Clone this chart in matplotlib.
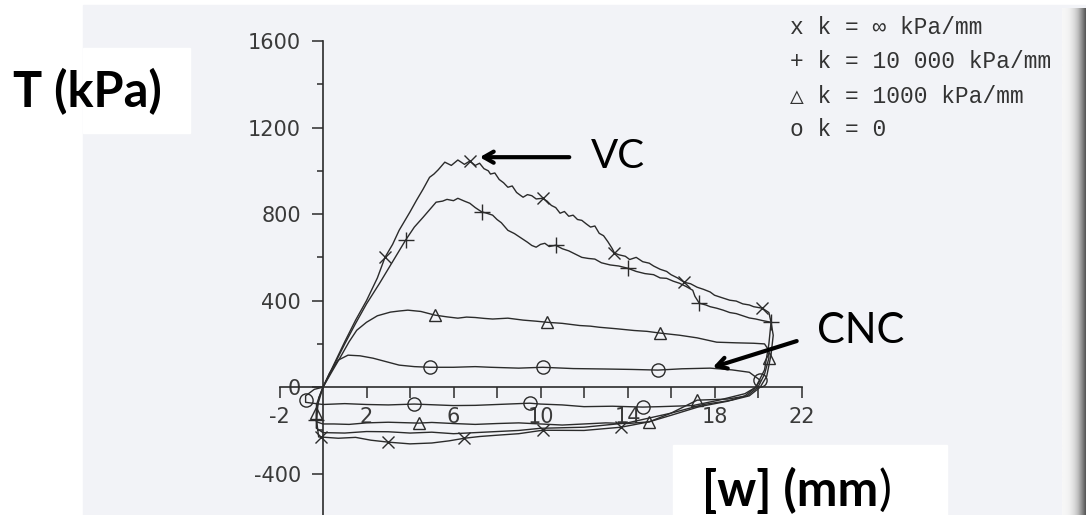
import numpy as np
import matplotlib.pyplot as plt
from matplotlib.patches import Rectangle

plt.rcParams['axes.unicode_minus'] = False

# k = inf  (x markers)
x_inf = [0, 0.5, 1.0, 1.5, 2.0, 2.5, 2.85, 3.2, 3.5, 4.0, 4.3, 4.6, 4.9, 5.1, 5.3, 5.6, 5.9, 6.2, 6.5, 6.75,
         7.0, 7.2, 7.4, 7.6, 7.7, 7.9, 8.1, 8.3, 8.5, 8.7, 8.9, 9.1, 9.2, 9.4, 9.6, 9.8, 10.1, 10.3,
         10.5, 10.7, 10.9, 11.1, 11.3, 11.5, 11.7, 11.9, 12.1, 12.3, 12.5, 12.7, 12.9, 13.1, 13.3,
         13.4, 13.6, 13.9, 14.1, 14.4, 14.7, 15.0, 15.2, 15.5, 15.8, 16.0, 16.3, 16.6, 16.9, 17.2,
         17.5, 17.8, 18.0, 18.3, 18.7, 19.0, 19.3, 19.6, 19.8, 20.2, 20.5, 20.6,
         20.5, 20.3, 19.9, 19.4, 18.6, 17.3, 16.0, 15.0, 13.7, 12.0, 10.1, 9.0, 8.0, 7.2, 6.5, 5.8,
         5.0, 4.0, 3.0, 2.2, 1.5, 0.7, 0.0, -0.2, -0.3, -0.2, 0]
y_inf = [0, 105, 210, 310, 400, 505, 600, 660, 725, 810, 864, 915, 970, 985, 1005, 1040, 1025, 1050, 1030, 1045,
         1025, 1035, 1010, 1000, 985, 990, 960, 945, 924, 930, 900, 885, 878, 890, 885, 870, 873, 860,
         840, 830, 804, 812, 790, 795, 775, 771, 755, 740, 745, 711, 700, 672, 640,
         620, 612, 605, 590, 600, 580, 573, 560, 545, 535, 520, 505, 485, 478, 462,
         452, 440, 425, 415, 402, 398, 385, 380, 372, 365, 345, 300,
         200, 80, 0, -40, -65, -90, -130, -160, -185, -200, -199, -215, -222, -228, -236, -248,
         -258, -262, -254, -245, -232, -236, -231, -230, -150, -50, 0]
mx_inf = [2.85, 6.75, 10.1, 13.4, 16.6, 20.2, 13.7, 10.1, 6.5, 3.0, -0.1]
my_inf = [600, 1045, 873, 620, 485, 365, -185, -199, -236, -254, -231]

# k = 10 000 kPa/mm  (+ markers)
x_10k = [0, 0.5, 1.0, 1.5, 2.0, 2.6, 3.2, 3.8, 4.2, 4.6, 5.2, 5.5, 5.7, 6.0, 6.2, 6.5, 6.75,
         7.0, 7.3, 7.5, 7.8, 8.0, 8.2, 8.5, 8.8, 9.1, 9.4, 9.6, 9.8, 10.0, 10.2, 10.4, 10.7, 11.0,
         11.3, 11.6, 11.9, 12.2, 12.5, 12.8, 13.2, 13.6, 14.0, 14.4, 14.8, 15.2, 15.5, 15.8, 16.1,
         16.4, 16.7, 17.0, 17.1, 17.3, 17.6, 17.8, 18.1, 18.4, 18.7, 19.0, 19.3, 19.6, 19.9, 20.2,
         20.6, 20.7, 20.6, 20.4, 20.1, 19.6, 18.8, 17.5, 16.0, 14.0, 12.0, 10.0, 9.0,
         8.0, 7.0, 6.0, 5.0, 4.0, 3.0, 2.0, 1.0, 0.0, -0.3, -0.3, 0]
y_10k = [0, 100, 200, 295, 385, 480, 580, 680, 740, 785, 855, 860, 868, 862, 873, 860, 850,
         830, 810, 805, 795, 775, 760, 725, 710, 690, 670, 655, 647, 660, 665, 650, 656, 640,
         630, 615, 600, 595, 592, 575, 565, 560, 550, 535, 525, 520, 505, 503, 490,
         480, 465, 448, 420, 388, 380, 372, 365, 356, 345, 340, 330, 320, 315, 308,
         300, 240, 150, 50, 0, -40, -60, -80, -120, -165, -185, -190, -200,
         -205, -210, -215, -208, -212, -206, -205, -212, -210, -190, -100, 0]
mx_10k = [3.8, 7.3, 10.7, 14.0, 17.3, 20.6, -0.3]
my_10k = [680, 810, 656, 550, 388, 300, -150]

# k = 1000 kPa/mm  (triangles)
x_1k = [0, 0.4, 0.8, 1.2, 1.55, 2.0, 2.5, 3.1, 3.5, 3.9, 4.5, 5.15, 5.7, 6.2, 6.6, 7.0, 7.4, 7.8,
        8.5, 9.2, 9.8, 10.3, 11.0, 11.8, 12.3, 12.7, 13.5, 14.3, 14.9, 15.5, 16.4, 17.2, 18.1,
        19.0, 19.8, 20.3, 20.5, 20.5, 20.3, 20.0, 19.5, 18.6, 17.2, 16.0, 15.0, 14.0, 13.0, 12.0,
        11.0, 10.0, 9.0, 8.0, 7.0, 6.0, 5.0, 4.4, 3.0, 2.0, 1.2, 0.5, 0.0, -0.3, -0.3, 0]
y_1k = [0, 70, 139, 210, 263, 300, 330, 347, 352, 356, 350, 333, 325, 319, 324, 322, 318, 315,
        319, 310, 305, 300, 295, 285, 282, 277, 270, 262, 258, 250, 240, 228, 208,
        205, 203, 200, 170, 134, 60, 0, -40, -55, -60, -120, -160, -168, -165, -170,
        -175, -170, -165, -168, -172, -168, -163, -166, -162, -165, -172, -170, -170, -160, -80, 0]
mx_1k = [5.15, 10.3, 15.5, 20.5, 17.2, 15.0, 4.4, -0.3]
my_1k = [333, 300, 250, 134, -60, -162, -166, -120]

# k = 0  (circles)
x_0 = [0, 0.3, 0.7, 1.15, 1.7, 2.3, 2.9, 3.5, 4.2, 4.9, 6.0, 7.0, 7.7, 9.0, 10.1, 11.5, 13.0, 14.2,
       15.4, 16.5, 17.8, 18.8, 19.6, 20.1, 19.9, 19.4, 18.2, 17.0, 15.5, 14.7, 13.3, 12.0, 11.0,
       10.0, 9.5, 8.0, 7.0, 6.0, 4.2, 3.0, 2.0, 1.0, 0.0, -0.8, -0.8, -0.4, 0]
y_0 = [0, 65, 125, 148, 145, 134, 118, 102, 95, 92, 92, 95, 92, 88, 92, 86, 84, 82,
       79, 85, 88, 80, 69, 32, 0, -30, -60, -85, -90, -92, -88, -90, -82,
       -78, -74, -80, -84, -85, -78, -82, -80, -76, -80, -70, -40, -10, 0]
mx_0 = [4.9, 10.1, 15.4, 20.1, 14.7, 9.5, 4.2, -0.8]
my_0 = [92, 92, 79, 32, -92, -74, -78, -60]

legend_lines = ['x k = \u221e kPa/mm', '+ k = 10 000 kPa/mm', '\u25b3 k = 1000 kPa/mm', 'o k = 0']

W, H = 1086, 515
fig = plt.figure(figsize=(W / 100, H / 100), dpi=100)
fig.patch.set_facecolor('white')

def box(x0, y0, x1, y1, color):
    # pixel box (top-left origin) -> figure rectangle
    fig.patches.append(Rectangle((x0 / W, 1 - y1 / H), (x1 - x0) / W, (y1 - y0) / H,
                                 transform=fig.transFigure, color=color, zorder=-5))

box(83, 5, W, H, '#f2f3f7')

# dark page edge on the right
sh = fig.add_axes([1062 / W, 0, 24 / W, 1 - 8 / H])
sh.imshow(np.linspace(0, 1, 40)[None, :] ** 2, aspect='auto', cmap='Greys', vmin=-0.1, vmax=1.4)
sh.axis('off')

ink = '#2b2b2b'
ax = fig.add_axes([279.5 / W, -2 / H, 522 / W, 476 / H])
ax.patch.set_alpha(0)
ax.set_xlim(-2, 22)
ax.set_ylim(-600, 1600)
for s in ['top', 'right']:
    ax.spines[s].set_visible(False)
ax.spines['left'].set_position(('data', 0))
ax.spines['bottom'].set_position(('data', 0))
for s in ['left', 'bottom']:
    ax.spines[s].set_color(ink)
    ax.spines[s].set_linewidth(1.2)

xt = [-2, 2, 4, 6, 8, 10, 12, 14, 16, 18, 20, 22]
ax.set_xticks(xt)
ax.set_xticklabels([str(v) if (v + 2) % 4 == 0 else '' for v in xt])
ax.set_yticks([-400, 0, 400, 800, 1200, 1600])
ax.set_yticks([-200, 200, 600, 1000, 1400], minor=True)
ax.tick_params(axis='both', which='major', direction='out', length=8, width=1.1, color=ink,
               labelsize=15, labelcolor='#3a3a3a')
ax.tick_params(axis='y', which='minor', direction='out', length=4, width=1.1, color=ink)
ax.tick_params(axis='x', pad=6)
ax.tick_params(axis='y', pad=8)

lkw = dict(color=ink, lw=1.0)
mkw = dict(linestyle='none', color=ink, mfc='none', mew=1.0)
ax.plot(x_inf, y_inf, **lkw)
ax.plot(x_10k, y_10k, **lkw)
ax.plot(x_1k, y_1k, **lkw)
ax.plot(x_0, y_0, **lkw)
ax.plot(mx_inf, my_inf, marker='x', ms=9, **mkw)
ax.plot(mx_10k, my_10k, marker='+', ms=11, **mkw)
ax.plot(mx_1k, my_1k, marker='^', ms=8, **mkw)
ax.plot(mx_0, my_0, marker='o', ms=9.5, **mkw)

arrow = dict(arrowstyle='->,head_length=0.7,head_width=0.4', lw=3, color='black')
ax.annotate('', xy=(7.08, 1063), xytext=(11.45, 1063), arrowprops=arrow, annotation_clip=False)
ax.text(12.3, 1068, 'VC', fontsize=29, family='Lato', va='center', ha='left')
ax.annotate('', xy=(17.8, 88), xytext=(21.9, 217), arrowprops=arrow, annotation_clip=False)
ax.text(22.7, 258, 'CNC', fontsize=30, family='Lato', va='center', ha='left', clip_on=False)

# legend of the scanned figure
for i, t in enumerate(legend_lines):
    fig.text(790 / W, 1 - (28 + 34 * i) / H, t, fontsize=16.5, color='#333333',
             family=['Liberation Mono', 'DejaVu Sans Mono', 'DejaVu Sans'], va='center')

# axis titles pasted on white boxes
box(83, 48, 190, 133, 'white')
fig.text(13 / W, 1 - 92 / H, 'T (kPa)', fontsize=35, weight='bold', family='Lato', va='center')
box(673, 445, 947, H, 'white')
t1 = fig.text(702 / W, 1 - 490 / H, '[w] (mm', fontsize=35, weight='bold', family='Lato', va='center')
ax.annotate(')', xy=(1, 0.5), xycoords=t1, fontsize=35, family='Lato', va='center', ha='left',
            annotation_clip=False)

fig.savefig('out.png', dpi=100)
